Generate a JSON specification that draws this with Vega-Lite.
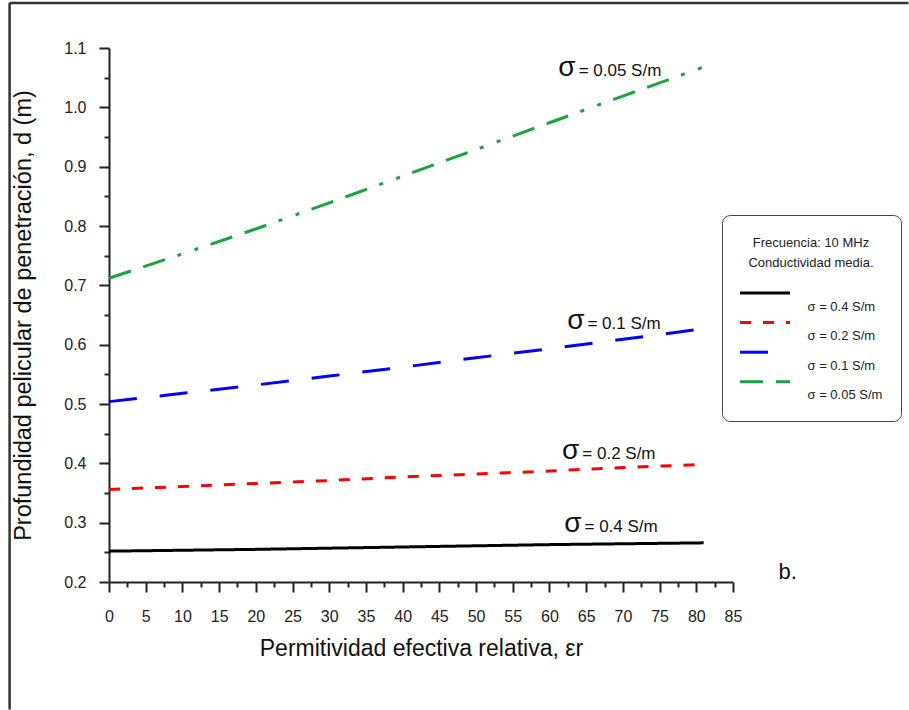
{
  "$schema": "https://vega.github.io/schema/vega-lite/v6.json",
  "width": 624,
  "height": 534,
  "autosize": {"type": "none"},
  "padding": {"left": 109, "top": 48, "right": 176, "bottom": 128},
  "background": "white",
  "config": {"font": "Liberation Sans", "view": {"stroke": null}},
  "datasets": {
    "curves": [
      {"sigma": "0.05", "er": 0, "d": 0.712},
      {"sigma": "0.05", "er": 10, "d": 0.753},
      {"sigma": "0.05", "er": 20, "d": 0.795},
      {"sigma": "0.05", "er": 30, "d": 0.839},
      {"sigma": "0.05", "er": 40, "d": 0.884},
      {"sigma": "0.05", "er": 50, "d": 0.929},
      {"sigma": "0.05", "er": 60, "d": 0.974},
      {"sigma": "0.05", "er": 70, "d": 1.019},
      {"sigma": "0.05", "er": 81, "d": 1.068},
      {"sigma": "0.1", "er": 0, "d": 0.504},
      {"sigma": "0.1", "er": 10, "d": 0.518},
      {"sigma": "0.1", "er": 20, "d": 0.532},
      {"sigma": "0.1", "er": 30, "d": 0.547},
      {"sigma": "0.1", "er": 40, "d": 0.562},
      {"sigma": "0.1", "er": 50, "d": 0.578},
      {"sigma": "0.1", "er": 60, "d": 0.593},
      {"sigma": "0.1", "er": 70, "d": 0.609},
      {"sigma": "0.1", "er": 81, "d": 0.627},
      {"sigma": "0.2", "er": 0, "d": 0.356},
      {"sigma": "0.2", "er": 10, "d": 0.361},
      {"sigma": "0.2", "er": 20, "d": 0.366},
      {"sigma": "0.2", "er": 30, "d": 0.371},
      {"sigma": "0.2", "er": 40, "d": 0.377},
      {"sigma": "0.2", "er": 50, "d": 0.382},
      {"sigma": "0.2", "er": 60, "d": 0.387},
      {"sigma": "0.2", "er": 70, "d": 0.393},
      {"sigma": "0.2", "er": 81, "d": 0.398},
      {"sigma": "0.4", "er": 0, "d": 0.252},
      {"sigma": "0.4", "er": 20, "d": 0.255},
      {"sigma": "0.4", "er": 40, "d": 0.259},
      {"sigma": "0.4", "er": 60, "d": 0.263},
      {"sigma": "0.4", "er": 81, "d": 0.266}
    ],
    "labels": [
      {"sigma": "0.05", "er": 63.7, "d": 1.053, "txt": "= 0.05 S/m"},
      {"sigma": "0.1", "er": 64.9, "d": 0.626, "txt": "= 0.1 S/m"},
      {"sigma": "0.2", "er": 64.2, "d": 0.407, "txt": "= 0.2 S/m"},
      {"sigma": "0.4", "er": 64.5, "d": 0.284, "txt": "= 0.4 S/m"}
    ]
  },
  "encoding": {
    "x": {
      "field": "er",
      "type": "quantitative",
      "scale": {"domain": [0, 85], "nice": false, "zero": false},
      "axis": {
        "title": "Permitividad efectiva relativa, εr",
        "values": [0, 2.5, 5, 7.5, 10, 12.5, 15, 17.5, 20, 22.5, 25, 27.5, 30, 32.5, 35, 37.5, 40, 42.5, 45, 47.5, 50, 52.5, 55, 57.5, 60, 62.5, 65, 67.5, 70, 72.5, 75, 77.5, 80, 82.5, 85],
        "labelExpr": "datum.value % 5 == 0 ? format(datum.value, 'd') : ''",
        "tickSize": 10,
        "tickDash": {"condition": {"test": "datum.value % 5 != 0", "value": [5, 20]}, "value": [1, 0]},
        "grid": false,
        "domainColor": "#222222",
        "domainWidth": 2,
        "tickColor": "#222222",
        "tickWidth": 2,
        "labelFontSize": 16,
        "labelColor": "#222222",
        "labelPadding": 16,
        "labelFlush": false,
        "labelOverlap": false,
        "titleFontSize": 23,
        "titleFontWeight": "normal",
        "titleColor": "#111111",
        "titleY": 73,
        "titleBaseline": "alphabetic"
      }
    },
    "y": {
      "field": "d",
      "type": "quantitative",
      "scale": {"domain": [0.2, 1.1], "nice": false, "zero": false},
      "axis": {
        "title": "Profundidad pelicular de penetración, d (m)",
        "values": [0.2, 0.25, 0.3, 0.35, 0.4, 0.45, 0.5, 0.55, 0.6, 0.65, 0.7, 0.75, 0.8, 0.85, 0.9, 0.95, 1.0, 1.05, 1.1],
        "labelExpr": "abs(datum.value*10 - round(datum.value*10)) < 0.001 ? format(datum.value, '.1f') : ''",
        "tickSize": 10,
        "tickDash": {"condition": {"test": "abs(datum.value*10 - round(datum.value*10)) > 0.001", "value": [5, 20]}, "value": [1, 0]},
        "grid": false,
        "domainColor": "#222222",
        "domainWidth": 2,
        "tickColor": "#222222",
        "tickWidth": 2,
        "labelFontSize": 16,
        "labelColor": "#222222",
        "labelPadding": 13,
        "labelFlush": false,
        "labelOverlap": false,
        "titleFontSize": 23.5,
        "titleFontWeight": "normal",
        "titleColor": "#111111",
        "titleX": -79,
        "titleBaseline": "alphabetic"
      }
    }
  },
  "layer": [
    {
      "data": {"name": "curves"},
      "mark": {"type": "line", "strokeWidth": 3, "strokeCap": "butt"},
      "encoding": {
        "color": {
          "field": "sigma",
          "type": "nominal",
          "scale": {"domain": ["0.4", "0.2", "0.1", "0.05"], "range": ["#000000", "#ff0000", "#0000ff", "#1aa340"]},
          "legend": {
            "title": ["Frecuencia: 10 MHz", "Conductividad media."],
            "orient": "none",
            "legendX": 613,
            "legendY": 167,
            "direction": "vertical",
            "titleFontSize": 13,
            "titleFontWeight": "normal",
            "titleColor": "#222222",
            "titleAnchor": "middle",
            "titleAlign": "center",
            "titleLineHeight": 20,
            "titleBaseline": "line-top",
            "titlePadding": 34,
            "labelExpr": "'σ = ' + datum.label + ' S/m\u00a0\u00a0\u00a0\u00a0'",
            "labelFontSize": 13,
            "labelColor": "#222222",
            "labelBaseline": "middle",
            "labelOffset": 61,
            "symbolType": "M0,-2.7H10",
            "symbolSize": 100,
            "symbolStrokeWidth": 3,
            "symbolOffset": -6.5,
            "strokeColor": "#444444",
            "cornerRadius": 8,
            "padding": 18,
            "rowPadding": 2.6,
            "fillColor": "white"
          }
        },
        "strokeDash": {
          "field": "sigma",
          "type": "nominal",
          "scale": {"domain": ["0.4", "0.2", "0.1", "0.05"], "range": [[1, 0], [11, 12], [28, 23], [23, 13, 23, 13, 4, 14, 4, 13]]},
          "legend": {
            "title": ["Frecuencia: 10 MHz", "Conductividad media."],
            "orient": "none",
            "legendX": 613,
            "legendY": 167,
            "direction": "vertical",
            "titleFontSize": 13,
            "titleFontWeight": "normal",
            "titleColor": "#222222",
            "titleAnchor": "middle",
            "titleAlign": "center",
            "titleLineHeight": 20,
            "titleBaseline": "line-top",
            "titlePadding": 34,
            "labelExpr": "'σ = ' + datum.label + ' S/m\u00a0\u00a0\u00a0\u00a0'",
            "labelFontSize": 13,
            "labelColor": "#222222",
            "labelBaseline": "middle",
            "labelOffset": 61,
            "symbolType": "M0,-2.7H10",
            "symbolSize": 100,
            "symbolStrokeWidth": 3,
            "symbolOffset": -6.5,
            "strokeColor": "#444444",
            "cornerRadius": 8,
            "padding": 18,
            "rowPadding": 2.6,
            "fillColor": "white"
          }
        }
      }
    },
    {
      "data": {"name": "labels"},
      "mark": {"type": "text", "align": "right", "baseline": "alphabetic", "fontSize": 28, "color": "#111111", "dx": -1},
      "encoding": {"text": {"value": "σ"}}
    },
    {
      "data": {"name": "labels"},
      "mark": {"type": "text", "align": "left", "baseline": "alphabetic", "fontSize": 17, "color": "#111111", "dx": 2},
      "encoding": {"text": {"field": "txt"}}
    },
    {
      "data": {"values": [{"er": 91.2, "d": 0.205, "txt": "b."}]},
      "mark": {"type": "text", "align": "left", "baseline": "alphabetic", "fontSize": 22, "color": "#111111"},
      "encoding": {"text": {"field": "txt"}}
    },
    {
      "data": {"values": [{"er": -13.54, "er2": 108.9, "d": 1.176}]},
      "mark": {"type": "rule", "stroke": "#333333", "strokeWidth": 2.5, "clip": false},
      "encoding": {"x2": {"field": "er2"}}
    },
    {
      "data": {"values": [{"er": -13.54, "d": 1.176, "d2": -0.015}]},
      "mark": {"type": "rule", "stroke": "#333333", "strokeWidth": 2.5, "clip": false},
      "encoding": {"y2": {"field": "d2"}}
    }
  ]
}
